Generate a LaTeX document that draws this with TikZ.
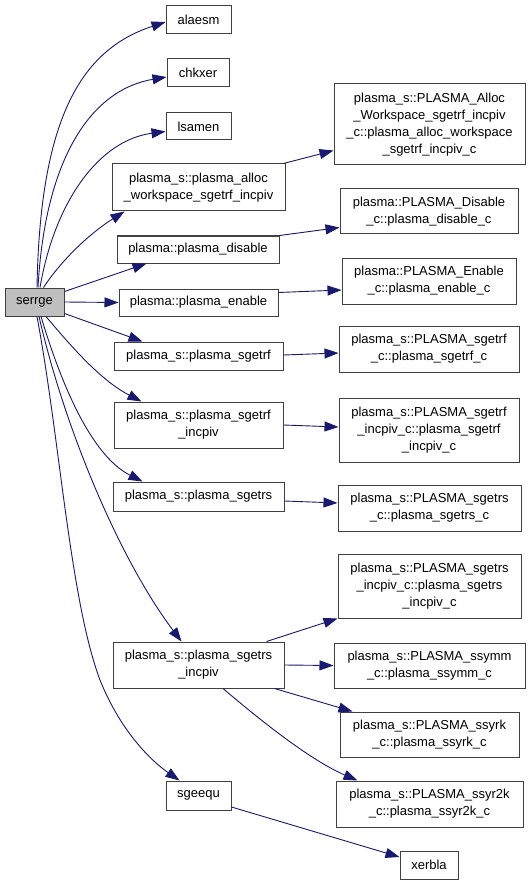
\documentclass[tikz,border=0pt]{standalone}
\usepackage{fontspec}
\setmainfont{Liberation Sans}
\usetikzlibrary{arrows.meta,calc}
\definecolor{edgec}{HTML}{191970}
\definecolor{boxc}{HTML}{404040}
\definecolor{curc}{HTML}{BFBFBF}
\tikzset{
  box/.style={draw=boxc, line width=1pt, fill=white, inner sep=0pt, align=center,
    font=\fontsize{13}{17}\selectfont},
  cur/.style={box, fill=curc},
  edge/.style={draw=edgec, line width=0.9pt, -{Triangle[length=14pt,width=10pt]}},
}
\begin{document}
\begin{tikzpicture}[x=1pt,y=-1pt]
\useasboundingbox[fill=white] (0,0) rectangle (531,885);
% left / middle
\node[cur, minimum width=59pt, minimum height=28pt] (serrge) at (34.5,302) {serrge};
\node[box, minimum width=65pt, minimum height=28pt] (alaesm) at (198.5,20) {alaesm};
\node[box, minimum width=62pt, minimum height=28pt] (chkxer) at (198,73) {chkxer};
\node[box, minimum width=65pt, minimum height=27pt] (lsamen) at (198.5,126.5) {lsamen};
\node[box, minimum width=173pt, minimum height=47pt] (alloc) at (198.5,187.5) {plasma\_s::plasma\_alloc\\\_workspace\_sgetrf\_incpiv};
\node[box, minimum width=162pt, minimum height=27pt] (disable) at (198,249.5) {plasma::plasma\_disable};
\node[box, minimum width=159pt, minimum height=27pt] (enable) at (198.5,302.5) {plasma::plasma\_enable};
\node[box, minimum width=169pt, minimum height=28pt] (sgetrf) at (198.5,356) {plasma\_s::plasma\_sgetrf};
\node[box, minimum width=169pt, minimum height=46pt] (sgetrfi) at (198.5,425) {plasma\_s::plasma\_sgetrf\\\_incpiv};
\node[box, minimum width=171pt, minimum height=29pt] (sgetrs) at (198.5,496.5) {plasma\_s::plasma\_sgetrs};
\node[box, minimum width=171pt, minimum height=46pt] (sgetrsi) at (198.5,665) {plasma\_s::plasma\_sgetrs\\\_incpiv};
\node[box, minimum width=65pt, minimum height=29pt] (sgeequ) at (198.5,795.5) {sgeequ};
% right
\node[box, minimum width=191pt, minimum height=81pt] (allocc) at (429.5,124.5) {plasma\_s::PLASMA\_Alloc\\\_Workspace\_sgetrf\_incpiv\\\_c::plasma\_alloc\_workspace\\\_sgetrf\_incpiv\_c};
\node[box, minimum width=178pt, minimum height=45pt] (disablec) at (429,211.5) {plasma::PLASMA\_Disable\\\_c::plasma\_disable\_c};
\node[box, minimum width=174pt, minimum height=46pt] (enablec) at (429,281) {plasma::PLASMA\_Enable\\\_c::plasma\_enable\_c};
\node[box, minimum width=180pt, minimum height=46pt] (sgetrfc) at (429,349) {plasma\_s::PLASMA\_sgetrf\\\_c::plasma\_sgetrf\_c};
\node[box, minimum width=180pt, minimum height=64pt] (sgetrfic) at (429,430) {plasma\_s::PLASMA\_sgetrf\\\_incpiv\_c::plasma\_sgetrf\\\_incpiv\_c};
\node[box, minimum width=183pt, minimum height=46pt] (sgetrsc) at (429.5,508) {plasma\_s::PLASMA\_sgetrs\\\_c::plasma\_sgetrs\_c};
\node[box, minimum width=183pt, minimum height=64pt] (sgetrsic) at (429.5,586) {plasma\_s::PLASMA\_sgetrs\\\_incpiv\_c::plasma\_sgetrs\\\_incpiv\_c};
\node[box, minimum width=191pt, minimum height=45pt] (ssymmc) at (429.5,665.5) {plasma\_s::PLASMA\_ssymm\\\_c::plasma\_ssymm\_c};
\node[box, minimum width=179pt, minimum height=45pt] (ssyrkc) at (429.5,734.5) {plasma\_s::PLASMA\_ssyrk\\\_c::plasma\_ssyrk\_c};
\node[box, minimum width=187pt, minimum height=46pt] (ssyr2kc) at (429.5,804) {plasma\_s::PLASMA\_ssyr2k\\\_c::plasma\_ssyr2k\_c};
\node[box, minimum width=58pt, minimum height=28pt] (xerbla) at (429,865) {xerbla};
% edges from serrge
\draw[edge] ($(serrge.north)+(2.5,0)$) .. controls (40,120) and (80,50) .. ($(alaesm.west)+(0,2)$);
\draw[edge] ($(serrge.north)+(3.5,0)$) .. controls (45,160) and (90,90) .. ($(chkxer.west)+(0,4)$);
\draw[edge] ($(serrge.north)+(5.5,0)$) .. controls (55,200) and (100,140) .. ($(lsamen.west)+(0,5)$);
\draw[edge] ($(serrge.north)+(9,0)$) .. controls (65,255) and (95,230) .. ($(alloc.south west)+(13,0)$);
\draw[edge] ($(serrge.north east)+(0,4)$) -- ($(disable.south west)+(30,0)$);
\draw[edge] (serrge.east) -- (enable.west);
\draw[edge] ($(serrge.south east)+(0,-3)$) -- ($(sgetrf.north west)+(29,0)$);
\draw[edge] ($(serrge.south)+(11.5,0)$) .. controls (70,345) and (100,380) .. ($(sgetrfi.north west)+(28,0)$);
\draw[edge] ($(serrge.south)+(6.5,0)$) .. controls (60,380) and (90,455) .. ($(sgetrs.north west)+(30,0)$);
\draw[edge] ($(serrge.south)+(4.5,0)$) .. controls (65,430) and (120,560) .. ($(sgetrsi.north west)+(69,0)$);
\draw[edge] ($(serrge.south)+(2.5,0)$) .. controls (60,440) and (70,600) .. (100,680) .. controls (120,730) and (150,760) .. ($(sgeequ.north west)+(14,0)$);
% middle to right
\draw[edge] ($(alloc.north east)+(-2,0)$) -- ($(allocc.south west)+(0,-15)$);
\draw[edge] (disable.north east) -- ($(disablec.south west)+(0,-7)$);
\draw[edge] ($(enable.north east)+(0,4)$) -- ($(enablec.west)+(0,9)$);
\draw[edge] ($(sgetrf.east)+(0,-1)$) -- ($(sgetrfc.west)+(0,4)$);
\draw[edge] (sgetrfi.east) -- ($(sgetrfic.west)+(0,-3)$);
\draw[edge] ($(sgetrs.east)+(0,4.5)$) -- ($(sgetrsc.west)+(0,-5)$);
\draw[edge] ($(sgetrsi.north east)+(-18,0)$) -- (sgetrsic.south west);
\draw[edge] (sgetrsi.east) -- (ssymmc.west);
\draw[edge] ($(sgetrsi.south east)+(-10,0)$) -- ($(ssyrkc.north west)+(13,0)$);
\draw[edge] ($(sgetrsi.south)+(24.5,0)$) .. controls (260,720) and (310,760) .. ($(ssyr2kc.north west)+(22,0)$);
\draw[edge] ($(sgeequ.east)+(0,11.5)$) -- ($(xerbla.west)+(0,-8)$);
\end{tikzpicture}
\end{document}
